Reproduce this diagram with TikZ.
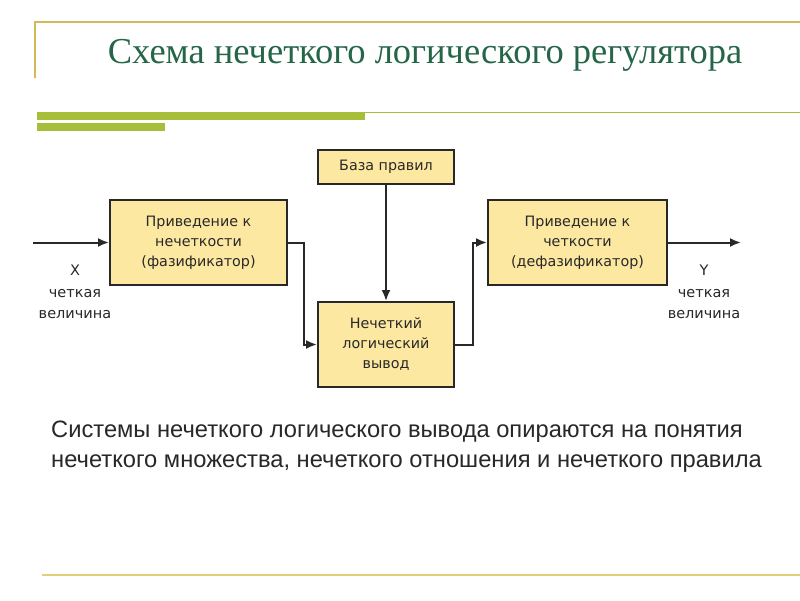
\documentclass[tikz,border=0pt]{standalone}
\usepackage{fontspec}
\setmainfont{Liberation Serif}
\newfontfamily\boxfont{DejaVu Sans}
\newfontfamily\bodyfont{Liberation Sans}
\usetikzlibrary{arrows.meta}
\definecolor{gold}{RGB}{212,185,90}
\definecolor{goldlight}{RGB}{226,205,120}
\definecolor{barg}{RGB}{166,190,58}
\definecolor{titleg}{RGB}{38,102,72}
\definecolor{boxfill}{RGB}{252,232,160}
\definecolor{ink}{RGB}{40,40,40}
\begin{document}
\begin{tikzpicture}[x=1pt,y=-1pt,
  blk/.style={draw=ink,line width=2pt,fill=boxfill,inner sep=0pt,align=center,
    text=ink,font=\boxfont\fontsize{14.3}{20}\selectfont},
  arr/.style={draw=ink,line width=2pt,-{Latex[length=11pt,width=9pt]}},
  lbl/.style={align=center,text=ink,font=\boxfont\fontsize{14.5}{21.5}\selectfont}]
\useasboundingbox[fill=white] (0,0) rectangle (800,600);
% frame lines
\draw[gold,line width=1.8pt] (35,78) -- (35,22) -- (800,22);
\draw[goldlight,line width=2.2pt] (42,575) -- (800,575);
% green bars
\fill[barg] (37,112) rectangle (365,120);
\draw[barg,line width=1.2pt] (365,112.6) -- (800,112.6);
\fill[barg] (37,123) rectangle (165,131);
% title
\node[text=titleg,font=\fontsize{36.5}{42}\selectfont,inner sep=0pt] (title) at (425,55) {Схема нечеткого логического регулятора};
% blocks
\node[blk,minimum width=177pt,minimum height=85pt] (f) at (198.5,242.5) {Приведение к\\нечеткости\\(фазификатор)};
\node[blk,minimum width=136pt,minimum height=34pt] (rules) at (386,167) {База правил};
\node[blk,minimum width=136pt,minimum height=85pt] (inf) at (386,344.5) {Нечеткий\\логический\\вывод};
\node[blk,minimum width=179pt,minimum height=85pt] (d) at (577.5,242.5) {Приведение к\\четкости\\(дефазификатор)};
% connectors
\coordinate (in) at (33,242.5);
\coordinate (out) at (741,242.5);
\draw[arr] (in) -- (f.west);
\draw[arr] (f.east) -- ++(16,0) |- (inf.west);
\draw[arr] (rules) -- (inf);
\draw[arr] (inf.east) -- ++(18,0) |- (d.west);
\draw[arr] (d.east) -- (out);
% labels
\node[lbl] (xl) at (75,292) {X\\четкая\\величина};
\node[lbl] (yl) at (704,292) {Y\\четкая\\величина};
% body text
\node[anchor=west,align=left,inner sep=0pt,text=ink,font=\bodyfont\fontsize{23.7}{30}\selectfont] (body) at (51,447)
 {Системы нечеткого логического вывода опираются на понятия\\нечеткого множества, нечеткого отношения и нечеткого правила};
\end{tikzpicture}
\end{document}
